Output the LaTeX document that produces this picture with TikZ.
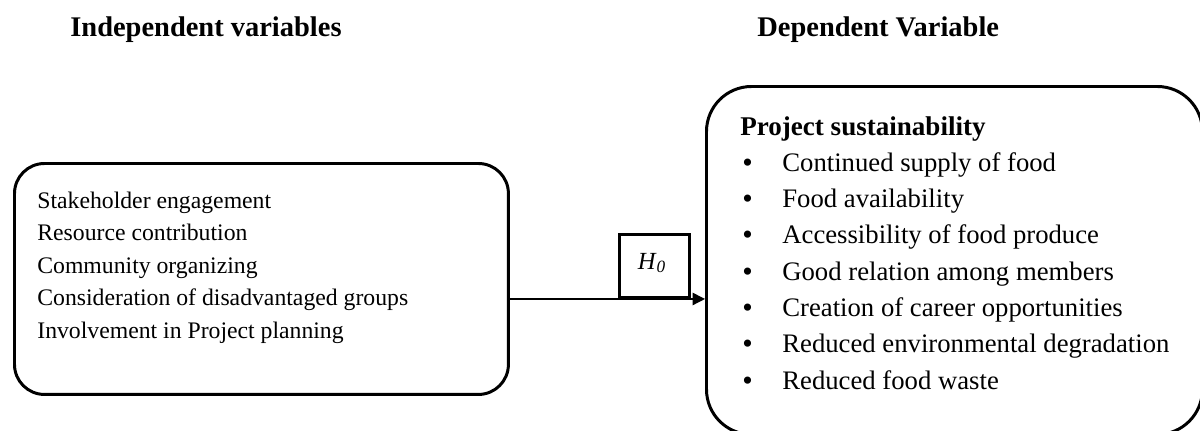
\documentclass[tikz,border=0pt]{standalone}
\usepackage{fontspec}
\setmainfont{Liberation Serif}
\usetikzlibrary{arrows.meta}
\begin{document}
\begin{tikzpicture}[x=0.02cm,y=-0.02cm,
  box/.style={draw, line width=1.7pt, inner sep=0pt, anchor=north west},
  title/.style={anchor=base west, inner sep=0pt, font=\fontsize{16.2}{19}\selectfont\bfseries},
  ltext/.style={anchor=base west, inner sep=0pt, font=\fontsize{13.5}{16}\selectfont},
  rtext/.style={anchor=base west, inner sep=0pt, font=\fontsize{15.2}{18}\selectfont},
  bul/.style={anchor=base west, inner sep=0pt, font=\fontsize{17}{18}\selectfont},
  conn/.style={line width=0.8pt, -{Triangle[length=7pt,width=7pt]}}]
\useasboundingbox (0,0) rectangle (1200,430);
\clip (0,0) rectangle (1200,430);
% titles
\node[title] (tind) at (70,36) {Independent variables};
\node[title] (tdep) at (757,36) {Dependent Variable};
% boxes
\node[box, rounded corners=0.6cm, minimum width=9.88cm, minimum height=4.62cm] (leftbox) at (13,162) {};
\node[box, rounded corners=0.9cm, minimum width=9.92cm, minimum height=6.96cm] (rightbox) at (705,85) {};
\node[box, minimum width=1.4cm, minimum height=1.26cm] (h0) at (618,233) {};
\node[font=\fontsize{14}{16}\selectfont, inner sep=0pt] (h0t) at (652,263) {\textit{H}\textsubscript{\textit{0}}};
% left text
\node[ltext] (l1) at (37,208) {Stakeholder engagement};
\node[ltext] (l2) at (37,240.5) {Resource contribution};
\node[ltext] (l3) at (37,273) {Community organizing};
\node[ltext] (l4) at (37,305.5) {Consideration of disadvantaged groups};
\node[ltext] (l5) at (37,338) {Involvement in Project planning};
% right text
\node[anchor=base west, inner sep=0pt, font=\fontsize{15.4}{18}\selectfont\bfseries] (rt) at (740,135) {Project sustainability};
\foreach \t [count=\i] in {Continued supply of food, Food availability, Accessibility of food produce, Good relation among members, Creation of career opportunities, Reduced environmental degradation, Reduced food waste}{
  \node[bul] (b\i) at (742,136+36.3*\i) {\textbullet};
  \node[rtext] (r\i) at (782,135+36.3*\i) {\t};
}
% connector
\draw[conn] (leftbox.east |- h0.south) -- (rightbox.west |- h0.south);
\end{tikzpicture}
\end{document}
